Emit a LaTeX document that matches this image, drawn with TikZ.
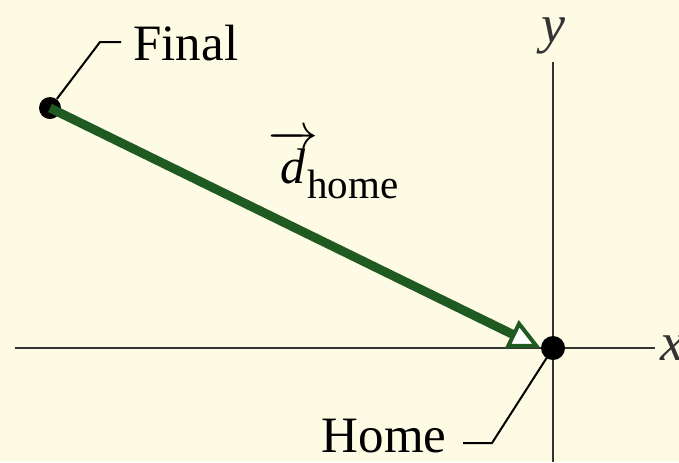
\documentclass[tikz,border=0pt]{standalone}
\usepackage{amsmath}
\usepackage{fontspec}
\setmainfont{Liberation Serif}
\usepackage{tikz}
\usetikzlibrary{arrows.meta}
\definecolor{paper}{HTML}{FDFBE4}
\definecolor{vecgreen}{HTML}{1F5A22}
\begin{document}
\begin{tikzpicture}[x=0.5pt,y=-0.5pt,font=\fontsize{25.5}{30}\selectfont]
\fill[paper](0,0)rectangle(679,462);
\useasboundingbox(0,0)rectangle(679,462);
\coordinate(O)at(553,348);
\coordinate(xl)at(15,348);\coordinate(xr)at(655,348);
\coordinate(yt)at(553,62);\coordinate(yb)at(553,462);
\draw[line width=1.2pt,black!80](xl)--(xr)node[right,inner sep=2pt,font=\fontsize{27}{30}\selectfont]{\textit{x}};
\draw[line width=1.2pt,black!80](yb)--(yt)node[above,font=\fontsize{27}{30}\selectfont]{\textit{y}};
\node[circle,fill=black,inner sep=0pt,minimum size=12pt](home)at(O){};
\node[circle,fill=black,inner sep=0pt,minimum size=11pt](final)at(50,108){};
\draw[line width=4.5pt,vecgreen,-{Triangle[open,fill=white,length=16pt,width=15pt,line width=2pt]}](final.center)--(home.west);
\node[anchor=base west,inner sep=0pt](dhome)at(268,183){\fontsize{25}{28}\selectfont$\overrightarrow{\textit{d}}$\hspace{-5.5pt}\raisebox{-7.5pt}{\fontsize{20.5}{24}\selectfont home}};
\node[anchor=base west,inner sep=0pt](finaltxt)at(133,60){Final};
\node[anchor=base east,inner sep=0pt](hometxt)at(447,452){Home};
\draw[line width=1pt](final)--(100,42)--([xshift=-6pt]finaltxt.west|-100,42);
\draw[line width=1pt](home.center)--(492,443)--(463,443);
\end{tikzpicture}
\end{document}
